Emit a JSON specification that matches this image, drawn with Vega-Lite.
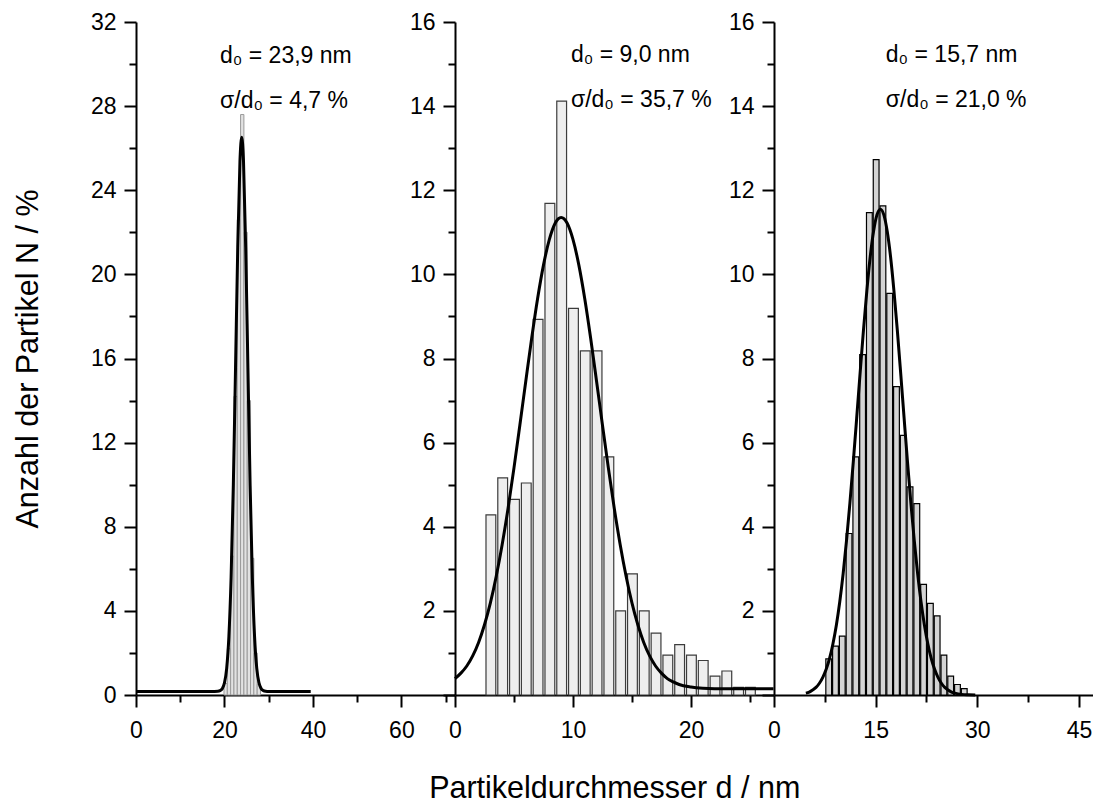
{
  "$schema": "https://vega.github.io/schema/vega-lite/v6.json",
  "padding": {"left": 13, "top": 11, "right": 5, "bottom": 2},
  "background": "white",
  "spacing": 0,
  "bounds": "flush",
  "config": {
    "font": "Liberation Sans",
    "view": {"stroke": null},
    "axis": {
      "domainColor": "black", "domainWidth": 2, "tickColor": "black", "tickWidth": 2,
      "labelFont": "Liberation Sans", "labelFontSize": 23, "labelColor": "black",
      "titleFont": "Liberation Sans", "titleFontSize": 30.5, "titleFontWeight": "normal", "titleColor": "black",
      "grid": false, "labelFlush": false, "labelOverlap": false
    }
  },
  "datasets": {
    "bars1": [
      {"start": 19.78, "end": 20.53, "n": 0.55}, {"start": 20.53, "end": 21.28, "n": 2.2},
      {"start": 21.28, "end": 22.03, "n": 6.6}, {"start": 22.03, "end": 22.78, "n": 14.2},
      {"start": 22.78, "end": 23.53, "n": 22.6}, {"start": 23.53, "end": 24.28, "n": 27.6},
      {"start": 24.28, "end": 25.03, "n": 22.0}, {"start": 25.03, "end": 25.78, "n": 14.0},
      {"start": 25.78, "end": 26.53, "n": 6.5}, {"start": 26.53, "end": 27.28, "n": 2.0},
      {"start": 27.28, "end": 28.03, "n": 0.5}
    ],
    "bars2": [
      {"start": 2.5, "end": 3.5, "n": 4.28}, {"start": 3.5, "end": 4.5, "n": 5.16},
      {"start": 4.5, "end": 5.5, "n": 4.65}, {"start": 5.5, "end": 6.5, "n": 5.04},
      {"start": 6.5, "end": 7.5, "n": 8.93}, {"start": 7.5, "end": 8.5, "n": 11.69},
      {"start": 8.5, "end": 9.5, "n": 14.12}, {"start": 9.5, "end": 10.5, "n": 9.19},
      {"start": 10.5, "end": 11.5, "n": 8.18}, {"start": 11.5, "end": 12.5, "n": 8.18},
      {"start": 12.5, "end": 13.5, "n": 5.66}, {"start": 13.5, "end": 14.5, "n": 2.0},
      {"start": 14.5, "end": 15.5, "n": 2.88}, {"start": 15.5, "end": 16.5, "n": 2.0},
      {"start": 16.5, "end": 17.5, "n": 1.47}, {"start": 17.5, "end": 18.5, "n": 0.95},
      {"start": 18.5, "end": 19.5, "n": 1.2}, {"start": 19.5, "end": 20.5, "n": 0.95},
      {"start": 20.5, "end": 21.5, "n": 0.82}, {"start": 21.5, "end": 22.5, "n": 0.45},
      {"start": 22.5, "end": 23.5, "n": 0.57}, {"start": 23.5, "end": 24.5, "n": 0.18},
      {"start": 24.5, "end": 25.5, "n": 0.18}
    ],
    "bars3": [
      {"start": 7.5, "end": 8.5, "n": 0.86}, {"start": 8.5, "end": 9.5, "n": 1.16},
      {"start": 9.5, "end": 10.5, "n": 1.4}, {"start": 10.5, "end": 11.5, "n": 3.84},
      {"start": 11.5, "end": 12.5, "n": 5.66}, {"start": 12.5, "end": 13.5, "n": 8.09},
      {"start": 13.5, "end": 14.5, "n": 11.47}, {"start": 14.5, "end": 15.5, "n": 12.73},
      {"start": 15.5, "end": 16.5, "n": 11.63}, {"start": 16.5, "end": 17.5, "n": 9.55},
      {"start": 17.5, "end": 18.5, "n": 7.33}, {"start": 18.5, "end": 19.5, "n": 6.17},
      {"start": 19.5, "end": 20.5, "n": 4.95}, {"start": 20.5, "end": 21.5, "n": 4.55},
      {"start": 21.5, "end": 22.5, "n": 2.63}, {"start": 22.5, "end": 23.5, "n": 2.18},
      {"start": 23.5, "end": 24.5, "n": 1.88}, {"start": 24.5, "end": 25.5, "n": 0.95},
      {"start": 25.5, "end": 26.5, "n": 0.45}, {"start": 26.5, "end": 27.5, "n": 0.25},
      {"start": 27.5, "end": 28.5, "n": 0.15}
    ],
    "fit1": [
      {"d": 0, "n": 0.17}, {"d": 10, "n": 0.17}, {"d": 17, "n": 0.17}, {"d": 18.5, "n": 0.18},
      {"d": 19, "n": 0.21}, {"d": 19.5, "n": 0.3}, {"d": 20, "n": 0.58}, {"d": 20.5, "n": 1.27},
      {"d": 21, "n": 2.79}, {"d": 21.5, "n": 5.6}, {"d": 22, "n": 9.96}, {"d": 22.5, "n": 15.56},
      {"d": 23, "n": 21.27}, {"d": 23.5, "n": 25.39}, {"d": 23.9, "n": 26.52}, {"d": 24.3, "n": 25.39},
      {"d": 24.8, "n": 21.27}, {"d": 25.3, "n": 15.56}, {"d": 25.8, "n": 9.96}, {"d": 26.3, "n": 5.6},
      {"d": 26.8, "n": 2.79}, {"d": 27.3, "n": 1.27}, {"d": 27.8, "n": 0.58}, {"d": 28.3, "n": 0.3},
      {"d": 28.8, "n": 0.21}, {"d": 29.3, "n": 0.18}, {"d": 30, "n": 0.17}, {"d": 39.5, "n": 0.17}
    ],
    "fit2": [
      {"d": 0, "n": 0.39}, {"d": 0.5, "n": 0.52}, {"d": 1, "n": 0.69}, {"d": 1.5, "n": 0.93},
      {"d": 2, "n": 1.25}, {"d": 2.5, "n": 1.67}, {"d": 3, "n": 2.19}, {"d": 3.5, "n": 2.83},
      {"d": 4, "n": 3.58}, {"d": 4.5, "n": 4.44}, {"d": 5, "n": 5.4}, {"d": 5.5, "n": 6.42},
      {"d": 6, "n": 7.46}, {"d": 6.5, "n": 8.48}, {"d": 7, "n": 9.42}, {"d": 7.5, "n": 10.22},
      {"d": 8, "n": 10.83}, {"d": 8.5, "n": 11.22}, {"d": 9, "n": 11.35}, {"d": 9.5, "n": 11.22},
      {"d": 10, "n": 10.83}, {"d": 10.5, "n": 10.22}, {"d": 11, "n": 9.42}, {"d": 11.5, "n": 8.48},
      {"d": 12, "n": 7.46}, {"d": 12.5, "n": 6.42}, {"d": 13, "n": 5.4}, {"d": 13.5, "n": 4.44},
      {"d": 14, "n": 3.58}, {"d": 14.5, "n": 2.83}, {"d": 15, "n": 2.19}, {"d": 15.5, "n": 1.67},
      {"d": 16, "n": 1.25}, {"d": 16.5, "n": 0.93}, {"d": 17, "n": 0.69}, {"d": 17.5, "n": 0.52},
      {"d": 18, "n": 0.39}, {"d": 18.5, "n": 0.31}, {"d": 19, "n": 0.25}, {"d": 20, "n": 0.19},
      {"d": 21, "n": 0.16}, {"d": 22, "n": 0.15}, {"d": 27, "n": 0.15}
    ],
    "fit3": [
      {"d": 4.7, "n": 0.045}, {"d": 5.2, "n": 0.07}, {"d": 5.7, "n": 0.12}, {"d": 6.2, "n": 0.18},
      {"d": 6.7, "n": 0.28}, {"d": 7.2, "n": 0.42}, {"d": 7.7, "n": 0.61}, {"d": 8.2, "n": 0.87},
      {"d": 8.7, "n": 1.22}, {"d": 9.2, "n": 1.66}, {"d": 9.7, "n": 2.21}, {"d": 10.2, "n": 2.88},
      {"d": 10.7, "n": 3.67}, {"d": 11.2, "n": 4.56}, {"d": 11.7, "n": 5.54}, {"d": 12.2, "n": 6.58},
      {"d": 12.7, "n": 7.64}, {"d": 13.2, "n": 8.67}, {"d": 13.7, "n": 9.61}, {"d": 14.2, "n": 10.42},
      {"d": 14.7, "n": 11.03}, {"d": 15.2, "n": 11.42}, {"d": 15.7, "n": 11.55}, {"d": 16.2, "n": 11.42},
      {"d": 16.7, "n": 11.03}, {"d": 17.2, "n": 10.42}, {"d": 17.7, "n": 9.61}, {"d": 18.2, "n": 8.67},
      {"d": 18.7, "n": 7.64}, {"d": 19.2, "n": 6.58}, {"d": 19.7, "n": 5.54}, {"d": 20.2, "n": 4.56},
      {"d": 20.7, "n": 3.67}, {"d": 21.2, "n": 2.88}, {"d": 21.7, "n": 2.21}, {"d": 22.2, "n": 1.66},
      {"d": 22.7, "n": 1.22}, {"d": 23.2, "n": 0.87}, {"d": 23.7, "n": 0.61}, {"d": 24.2, "n": 0.42},
      {"d": 24.7, "n": 0.28}, {"d": 25.2, "n": 0.18}, {"d": 25.7, "n": 0.12}, {"d": 26.2, "n": 0.07},
      {"d": 26.7, "n": 0.045}, {"d": 27.7, "n": 0.015}, {"d": 28.7, "n": 0.005}, {"d": 29.7, "n": 0.0}
    ],
    "ann": [
      {"panel": 1, "x": 19.0, "y": 30.05, "label": "d₀ = 23,9 nm"},
      {"panel": 1, "x": 19.0, "y": 27.9, "label": "σ/d₀ = 4,7 %"},
      {"panel": 2, "x": 9.83, "y": 15.04, "label": "d₀ = 9,0 nm"},
      {"panel": 2, "x": 9.83, "y": 13.97, "label": "σ/d₀ = 35,7 %"},
      {"panel": 3, "x": 16.5, "y": 15.04, "label": "d₀ = 15,7 nm"},
      {"panel": 3, "x": 16.5, "y": 13.97, "label": "σ/d₀ = 21,0 %"}
    ]
  },
  "hconcat": [
    {
      "width": 318.5, "height": 673,
      "resolve": {"axis": {"x": "independent", "y": "independent"}},
      "layer": [
        {
          "data": {"name": "bars1"},
          "mark": {"type": "bar", "fill": "#e2e2e2", "stroke": "#9a9a9a", "strokeWidth": 1, "binSpacing": 0},
          "encoding": {
            "x": {"field": "start", "type": "quantitative", "bin": {"binned": true},
              "scale": {"domain": [0, 72], "nice": false, "zero": false},
              "axis": {"orient": "bottom", "values": [0, 20, 40, 60], "title": null, "tickSize": 12, "labelPadding": 12}},
            "x2": {"field": "end"},
            "y": {"field": "n", "type": "quantitative",
              "scale": {"domain": [0, 32], "nice": false},
              "axis": {"orient": "left", "values": [0, 4, 8, 12, 16, 20, 24, 28, 32], "tickSize": 12,
                "labelPadding": 8, "title": "Anzahl der Partikel N / %", "titlePadding": 47}}
          }
        },
        {
          "data": {"name": "fit1"},
          "mark": {"type": "line", "color": "black", "strokeWidth": 3, "interpolate": "monotone"},
          "encoding": {
            "x": {"field": "d", "type": "quantitative",
              "axis": {"orient": "bottom", "values": [10, 30, 50, 70], "labels": false, "domain": false, "tickSize": 7, "title": null}},
            "y": {"field": "n", "type": "quantitative",
              "axis": {"orient": "left", "values": [2, 6, 10, 14, 18, 22, 26, 30], "labels": false, "domain": false, "tickSize": 7, "title": null}}
          }
        },
        {
          "data": {"name": "ann"},
          "transform": [{"filter": "datum.panel == 1"}],
          "mark": {"type": "text", "align": "left", "baseline": "alphabetic", "fontSize": 23, "font": "Liberation Sans", "color": "black"},
          "encoding": {
            "x": {"field": "x", "type": "quantitative", "axis": null},
            "y": {"field": "y", "type": "quantitative", "axis": null},
            "text": {"field": "label"}
          }
        }
      ]
    },
    {
      "width": 318.5, "height": 673,
      "resolve": {"axis": {"x": "independent", "y": "independent"}},
      "layer": [
        {
          "data": {"name": "bars2"},
          "mark": {"type": "bar", "fill": "#eeeeee", "stroke": "#3c3c3c", "strokeWidth": 1.2, "binSpacing": 2},
          "encoding": {
            "x": {"field": "start", "type": "quantitative", "bin": {"binned": true},
              "scale": {"domain": [0, 27], "nice": false, "zero": false},
              "axis": {"orient": "bottom", "values": [0, 10, 20], "title": "Partikeldurchmesser d / nm", "titlePadding": 31, "tickSize": 12, "labelPadding": 12}},
            "x2": {"field": "end"},
            "y": {"field": "n", "type": "quantitative",
              "scale": {"domain": [0, 16], "nice": false},
              "axis": {"orient": "left", "values": [0, 2, 4, 6, 8, 10, 12, 14, 16], "labelExpr": "datum.value > 0 ? datum.label : ''",
                "tickSize": 12, "labelPadding": 8, "title": null}}
          }
        },
        {
          "data": {"name": "fit2"},
          "mark": {"type": "line", "color": "black", "strokeWidth": 3, "interpolate": "monotone"},
          "encoding": {
            "x": {"field": "d", "type": "quantitative",
              "axis": {"orient": "bottom", "values": [5, 15, 25], "labels": false, "domain": false, "tickSize": 7, "title": null}},
            "y": {"field": "n", "type": "quantitative",
              "axis": {"orient": "left", "values": [1, 3, 5, 7, 9, 11, 13, 15], "labels": false, "domain": false, "tickSize": 7, "title": null}}
          }
        },
        {
          "data": {"name": "ann"},
          "transform": [{"filter": "datum.panel == 2"}],
          "mark": {"type": "text", "align": "left", "baseline": "alphabetic", "fontSize": 23, "font": "Liberation Sans", "color": "black"},
          "encoding": {
            "x": {"field": "x", "type": "quantitative", "axis": null},
            "y": {"field": "y", "type": "quantitative", "axis": null},
            "text": {"field": "label"}
          }
        }
      ]
    },
    {
      "width": 318.5, "height": 673,
      "resolve": {"axis": {"x": "independent", "y": "independent"}},
      "layer": [
        {
          "data": {"name": "bars3"},
          "mark": {"type": "bar", "fill": "#d4d4d4", "stroke": "black", "strokeWidth": 1.2, "binSpacing": 1},
          "encoding": {
            "x": {"field": "start", "type": "quantitative", "bin": {"binned": true},
              "scale": {"domain": [0, 47], "nice": false, "zero": false},
              "axis": {"orient": "bottom", "values": [0, 15, 30, 45], "title": null, "tickSize": 12, "labelPadding": 12}},
            "x2": {"field": "end"},
            "y": {"field": "n", "type": "quantitative",
              "scale": {"domain": [0, 16], "nice": false},
              "axis": {"orient": "left", "values": [0, 2, 4, 6, 8, 10, 12, 14, 16], "labelExpr": "datum.value > 0 ? datum.label : ''",
                "tickSize": 12, "labelPadding": 8, "title": null}}
          }
        },
        {
          "data": {"name": "fit3"},
          "mark": {"type": "line", "color": "black", "strokeWidth": 3, "interpolate": "monotone"},
          "encoding": {
            "x": {"field": "d", "type": "quantitative",
              "axis": {"orient": "bottom", "values": [7.5, 22.5, 37.5], "labels": false, "domain": false, "tickSize": 7, "title": null}},
            "y": {"field": "n", "type": "quantitative",
              "axis": {"orient": "left", "values": [1, 3, 5, 7, 9, 11, 13, 15], "labels": false, "domain": false, "tickSize": 7, "title": null}}
          }
        },
        {
          "data": {"name": "ann"},
          "transform": [{"filter": "datum.panel == 3"}],
          "mark": {"type": "text", "align": "left", "baseline": "alphabetic", "fontSize": 23, "font": "Liberation Sans", "color": "black"},
          "encoding": {
            "x": {"field": "x", "type": "quantitative", "axis": null},
            "y": {"field": "y", "type": "quantitative", "axis": null},
            "text": {"field": "label"}
          }
        }
      ]
    }
  ]
}
